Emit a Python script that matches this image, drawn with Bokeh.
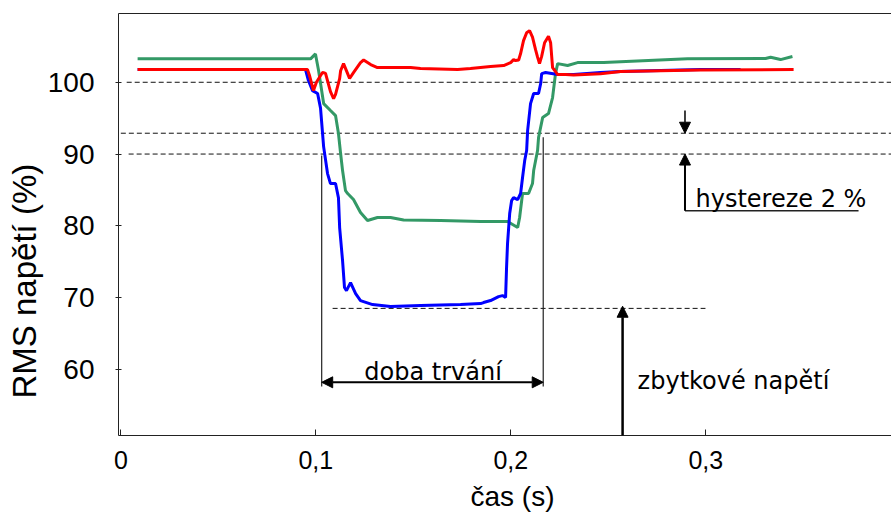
from bokeh.plotting import figure
from bokeh.models import (Range1d, FixedTicker, LinearAxis, Label, Arrow,
                          NormalHead, ColumnDataSource, Title)
from bokeh.embed import file_html
from bokeh.resources import INLINE

# ---- data (time in s, RMS voltage in %) ----
t_green = [0.0086, 0.0973, 0.0998, 0.1014, 0.1040, 0.1075, 0.1101, 0.1116, 0.1127,
           0.1137, 0.1152, 0.1163, 0.1193, 0.1229, 0.1265, 0.1316, 0.1383, 0.1450,
           0.1640, 0.1845, 0.1983, 0.2035, 0.2045, 0.2060, 0.2091, 0.2111, 0.2117,
           0.2137, 0.2142, 0.2163, 0.2193, 0.2214, 0.2229, 0.2240, 0.2291, 0.2342,
           0.2476, 0.2906, 0.3306, 0.3332, 0.3383, 0.3444]
v_green = [103.26, 103.26, 103.95, 101.63, 97.03, 96.06, 95.36, 92.86, 90.07,
           87.70, 84.90, 84.50, 83.66, 81.85, 80.74, 81.16, 81.16, 80.80,
           80.74, 80.60, 80.60, 79.76, 81.16, 84.50, 84.50, 85.89, 87.70,
           90.49, 92.30, 95.08, 95.64, 97.87, 101.21, 102.60, 102.33, 102.74,
           102.74, 103.26, 103.30, 103.48, 103.16, 103.58]

t_blue = [0.0086, 0.0947, 0.0962, 0.0983, 0.1009, 0.1024, 0.1040, 0.1060, 0.1075,
          0.1101, 0.1116, 0.1122, 0.1137, 0.1147, 0.1157, 0.1178, 0.1204, 0.1229,
          0.1291, 0.1383, 0.1537, 0.1742, 0.1845, 0.1860, 0.1896, 0.1937, 0.1957,
          0.1973, 0.1978, 0.1983, 0.1994, 0.2004, 0.2014, 0.2035, 0.2050, 0.2060,
          0.2071, 0.2081, 0.2086, 0.2101, 0.2117, 0.2142, 0.2153, 0.2158, 0.2178,
          0.2240, 0.2322, 0.2460, 0.2563, 0.2768, 0.2973, 0.3178]
v_blue = [101.77, 101.77, 100.24, 98.84, 98.43, 96.40, 91.00, 87.28, 85.89,
          85.89, 83.90, 79.76, 75.15, 71.40, 70.98, 72.09, 70.56, 69.59,
          69.03, 68.76, 68.89, 69.03, 69.17, 69.31, 69.59, 70.14, 70.28,
          70.01, 74.18, 77.53, 81.71, 83.52, 83.94, 83.66, 84.50, 86.73,
          89.09, 90.49, 93.27, 97.03, 98.43, 98.43, 99.82, 101.21, 101.35,
          101.07, 101.07, 101.35, 101.49, 101.63, 101.77, 101.77]

t_red = [0.0086, 0.0957, 0.0968, 0.0988, 0.1003, 0.1034, 0.1045, 0.1050, 0.1075,
         0.1091, 0.1101, 0.1122, 0.1127, 0.1142, 0.1163, 0.1173, 0.1193, 0.1229,
         0.1245, 0.1281, 0.1316, 0.1486, 0.1537, 0.1727, 0.1793, 0.1896, 0.1963,
         0.1999, 0.2014, 0.2024, 0.2040, 0.2050, 0.2065, 0.2081, 0.2096, 0.2111,
         0.2127, 0.2137, 0.2147, 0.2158, 0.2173, 0.2193, 0.2204, 0.2214, 0.2229,
         0.2240, 0.2281, 0.2322, 0.2460, 0.2563, 0.2973, 0.3450]
v_red = [101.77, 101.77, 100.90, 98.84, 100.00, 101.35, 101.30, 101.21, 98.70,
         97.73, 98.30, 100.50, 101.60, 102.60, 101.20, 100.52, 101.35, 102.74,
         103.10, 102.47, 102.05, 102.05, 101.91, 101.77, 101.91, 102.19, 102.33,
         102.74, 103.16, 103.02, 103.10, 104.00, 105.80, 106.90, 107.20, 106.30,
         104.50, 103.50, 102.60, 103.60, 105.50, 106.40, 105.50, 102.05, 101.50,
         101.07, 101.07, 101.00, 101.20, 101.50, 101.72, 101.77]

# reference (threshold) levels drawn dashed
ref_levels = [100.0, 92.9, 90.0]
ref_starts = [0.003, 0.0, 0.004]
residual_level = 68.5
residual_from, residual_to = 0.1086, 0.2998

# duration markers
dur_start, dur_end = 0.1030, 0.2166
dur_top_start, dur_top_end = 89.8, 92.35
dur_bottom = 57.6
dur_arrow_y = 58.2

# hysteresis marker
hyst_x = 0.2893
hyst_down_from = 96.05
hyst_up_from = 82.1
hyst_line_end = 0.3783

# residual-voltage arrow
resid_arrow_x = 0.2573

x_ticks = [0, 0.1, 0.2, 0.3]
x_tick_labels = ["0", "0,1", "0,2", "0,3"]
y_ticks = [60, 70, 80, 90, 100]

x_title = "čas (s)"
y_title = "RMS napětí (%)"

X0, X1 = -0.0012, 0.3952
Y0, Y1 = 50.79, 109.58

p = figure(width=891, height=520, output_backend="svg", toolbar_location=None,
           x_range=Range1d(X0, X1), y_range=Range1d(Y0, Y1),
           min_border_left=118, min_border_right=0, min_border_top=13,
           min_border_bottom=85)
p.outline_line_color = None
p.xgrid.visible = False
p.ygrid.visible = False
p.background_fill_color = "white"
p.border_fill_color = "white"

# axes
p.xaxis.ticker = FixedTicker(ticks=x_ticks)
p.xaxis.major_label_overrides = dict(zip(x_ticks, x_tick_labels))
p.xaxis.major_tick_in = 6
p.xaxis.major_tick_out = 0
p.xaxis.minor_tick_line_color = None
p.xaxis.major_label_text_font = "Liberation Sans"
p.xaxis.major_label_text_font_size = "25px"
p.xaxis.major_label_standoff = 15

p.yaxis.ticker = FixedTicker(ticks=y_ticks)
p.yaxis.major_tick_in = 3
p.yaxis.major_tick_out = 3
p.yaxis.minor_tick_line_color = None
p.yaxis.major_label_text_font = "Liberation Sans"
p.yaxis.major_label_text_font_size = "28px"
p.yaxis.major_label_standoff = 21

for ax in (p.xaxis, p.yaxis):
    ax.axis_line_color = "#222222"
    ax.major_tick_line_color = "#222222"
    ax.major_label_text_color = "black"

top_axis = LinearAxis(ticker=FixedTicker(ticks=[]), major_label_text_font_size="0px",
                      major_tick_line_color=None, minor_tick_line_color=None,
                      major_tick_out=0, major_tick_in=0, major_label_standoff=0,
                      axis_line_color="#222222")
p.add_layout(top_axis, "above")

# axis titles as side-panel titles so they can be shifted like in the original
p.add_layout(Title(text=y_title, align="left", offset=37, standoff=4,
                   text_font="Liberation Sans", text_font_size="33px",
                   text_font_style="normal", text_color="black"), "left")
p.add_layout(Title(text=x_title, align="left", offset=352, standoff=14,
                   text_font="Liberation Sans", text_font_size="28px",
                   text_font_style="normal", text_color="black"), "below")

# dashed reference lines
ref_src = ColumnDataSource(dict(x0=ref_starts, x1=[X1] * len(ref_levels),
                                y=ref_levels))
p.segment(x0="x0", y0="y", x1="x1", y1="y", source=ref_src,
          line_color="#111111", line_width=1, line_dash="5 3")
p.segment(x0=[residual_from], y0=[residual_level], x1=[residual_to], y1=[residual_level],
          line_color="#111111", line_width=1, line_dash="5 3")

# duration verticals
p.segment(x0=[dur_start, dur_end], y0=[dur_bottom, dur_bottom],
          x1=[dur_start, dur_end], y1=[dur_top_start, dur_top_end],
          line_color="#222222", line_width=1.2)

# curves
p.line(t_green, v_green, line_color="#339966", line_width=3)
p.line(t_blue, v_blue, line_color="#0000ff", line_width=3)
p.line(t_red, v_red, line_color="#ff0000", line_width=3)

# arrows
def head():
    return NormalHead(size=11, fill_color="black", line_color="black")

p.add_layout(Arrow(start=head(), end=head(), x_start=dur_start, y_start=dur_arrow_y,
                   x_end=dur_end, y_end=dur_arrow_y, line_width=2, line_color="black"))
p.add_layout(Arrow(end=head(), x_start=hyst_x, y_start=hyst_down_from,
                   x_end=hyst_x, y_end=ref_levels[1], line_width=1.5, line_color="black"))
p.add_layout(Arrow(end=head(), x_start=hyst_x, y_start=hyst_up_from,
                   x_end=hyst_x, y_end=ref_levels[2], line_width=2, line_color="black"))
p.segment(x0=[hyst_x], y0=[hyst_up_from], x1=[hyst_line_end], y1=[hyst_up_from],
          line_color="#222222", line_width=1.5)
p.add_layout(Arrow(end=head(), x_start=resid_arrow_x, y_start=Y0,
                   x_end=resid_arrow_x, y_end=residual_level + 0.3,
                   line_width=2.5, line_color="black"))

# annotation texts
ann_font = "DejaVu Sans"
for tx, ty, txt, align in [(0.2947, 83.8, "hystereze 2 %", "left"),
                           (0.1601, 59.6, "doba trvání", "center"),
                           (0.2650, 58.4, "zbytkové napětí", "left")]:
    p.add_layout(Label(x=tx, y=ty, text=txt, text_font=ann_font, text_color="black",
                       text_font_size="24px", text_baseline="alphabetic",
                       text_align=align))

open("out.html", "w").write(file_html(p, INLINE))
